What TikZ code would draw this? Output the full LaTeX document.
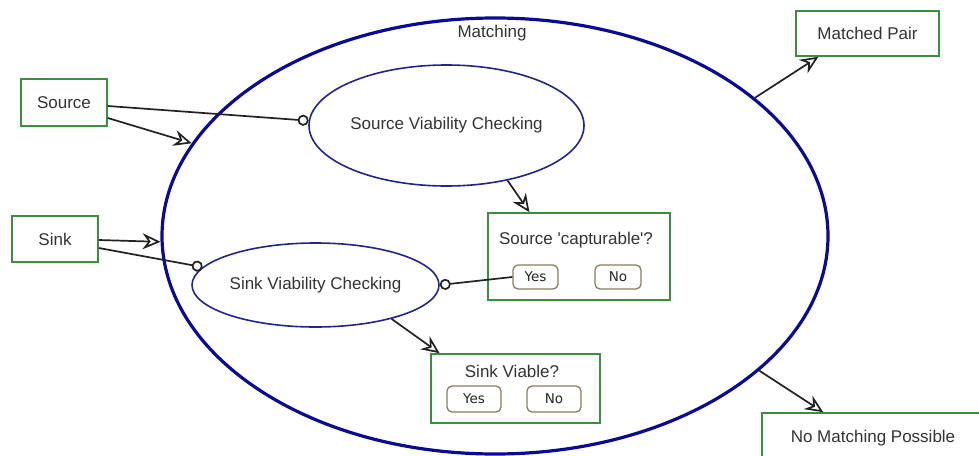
\documentclass[tikz,border=0pt]{standalone}
\usepackage{fontspec}
\setmainfont{Liberation Sans}
\newfontfamily\btnfont{DejaVu Sans}
\usetikzlibrary{arrows.meta,shapes.geometric,calc}
\definecolor{boxgreen}{HTML}{3C8F3C}
\definecolor{bigblue}{HTML}{0A0A96}
\definecolor{procblue}{HTML}{24248C}
\definecolor{btnedge}{HTML}{857F5C}
\definecolor{txt}{HTML}{333333}
\definecolor{wire}{HTML}{222222}
\begin{document}
\begin{tikzpicture}[x=1pt,y=-1pt,
  lbl/.style={font=\fontsize{17}{20}\selectfont, text=txt},
  greenbox/.style={draw=boxgreen, line width=1.6pt, fill=white, inner sep=0pt,
    lbl},
  procell/.style={ellipse, draw=procblue, line width=1.6pt, inner sep=0pt, lbl},
  btn/.style={draw=btnedge, line width=1.3pt, rounded corners=5pt, fill=white,
    inner sep=0pt, text=black!85, font=\btnfont\fontsize{13.5}{15}\selectfont},
  flow/.style={draw=wire, line width=1.7pt,
    -{Stealth[open, length=18pt, width=16pt, inset=6pt]}},
  lollipop/.style={draw=wire, line width=1.7pt,
    -{Circle[open, length=11pt, fill=white]}}]
\useasboundingbox (0,0) rectangle (979,455);

% the matching process
\node[ellipse, draw=bigblue, line width=3.2pt, minimum width=666pt,
  minimum height=436pt, inner sep=0pt] (match) at (495,236) {};
\node[lbl] (matchlbl) at (492,33) {Matching};

% inputs
\node[greenbox, minimum width=86pt, minimum height=47pt] (src) at (64,102.5) {Source};
\node[greenbox, minimum width=86pt, minimum height=46pt] (snk) at (55,239) {Sink};

% outcomes
\node[greenbox, minimum width=143pt, minimum height=45pt] (pair) at (867.5,33.5) {Matched Pair};
\node[greenbox, minimum width=222pt, minimum height=50pt] (nomatch) at (873,438) {No Matching Possible};

% viability checks
\node[procell, minimum width=275pt, minimum height=121pt] (svc) at (446.5,125.5) {Source Viability Checking};
\node[procell, minimum width=247pt, minimum height=84pt] (ssc) at (315.5,285) {Sink Viability Checking};

% decision: source capturable
\node[greenbox, minimum width=182pt, minimum height=87pt] (cap) at (579,256.5) {};
\node[lbl] (captitle) at (576,240) {Source \textquotesingle capturable\textquotesingle?};
\node[btn, minimum width=45pt, minimum height=24pt] (yes1) at (535.5,277) {Yes};
\node[btn, minimum width=46pt, minimum height=24pt] (no1) at (618,277) {No};

% decision: sink viable
\node[greenbox, minimum width=169pt, minimum height=69pt] (viable) at (515.5,388.5) {};
\node[lbl] (viabletitle) at (512,371) {Sink Viable?};
\node[btn, minimum width=54pt, minimum height=26pt] (yes2) at (474,399) {Yes};
\node[btn, minimum width=54pt, minimum height=26pt] (no2) at (554,399) {No};

% connectors
\draw[lollipop] ($(src.east)+(0,3.5)$) -- (svc.178);
\draw[flow] ($(src.east)+(0,15.5)$) -- (match.163);
\draw[flow] ($(snk.east)+(0,1)$) -- (match.181);
\draw[lollipop] ($(snk.east)+(0,9)$) -- (ssc.171);
\draw[lollipop] (yes1.west) -- (ssc.east);
\draw[flow] (svc.-42) -- ($(cap.north west)!0.23!(cap.north east)$);
\draw[flow] (ssc.-24.5) -- ($(viable.north west)!0.055!(viable.north east)$);
\draw[flow] (match.28) -- ($(pair.south west)!0.16!(pair.south east)$);
\draw[flow] (match.-27.3) -- ($(nomatch.north west)+(62,0)$);
\end{tikzpicture}
\end{document}
